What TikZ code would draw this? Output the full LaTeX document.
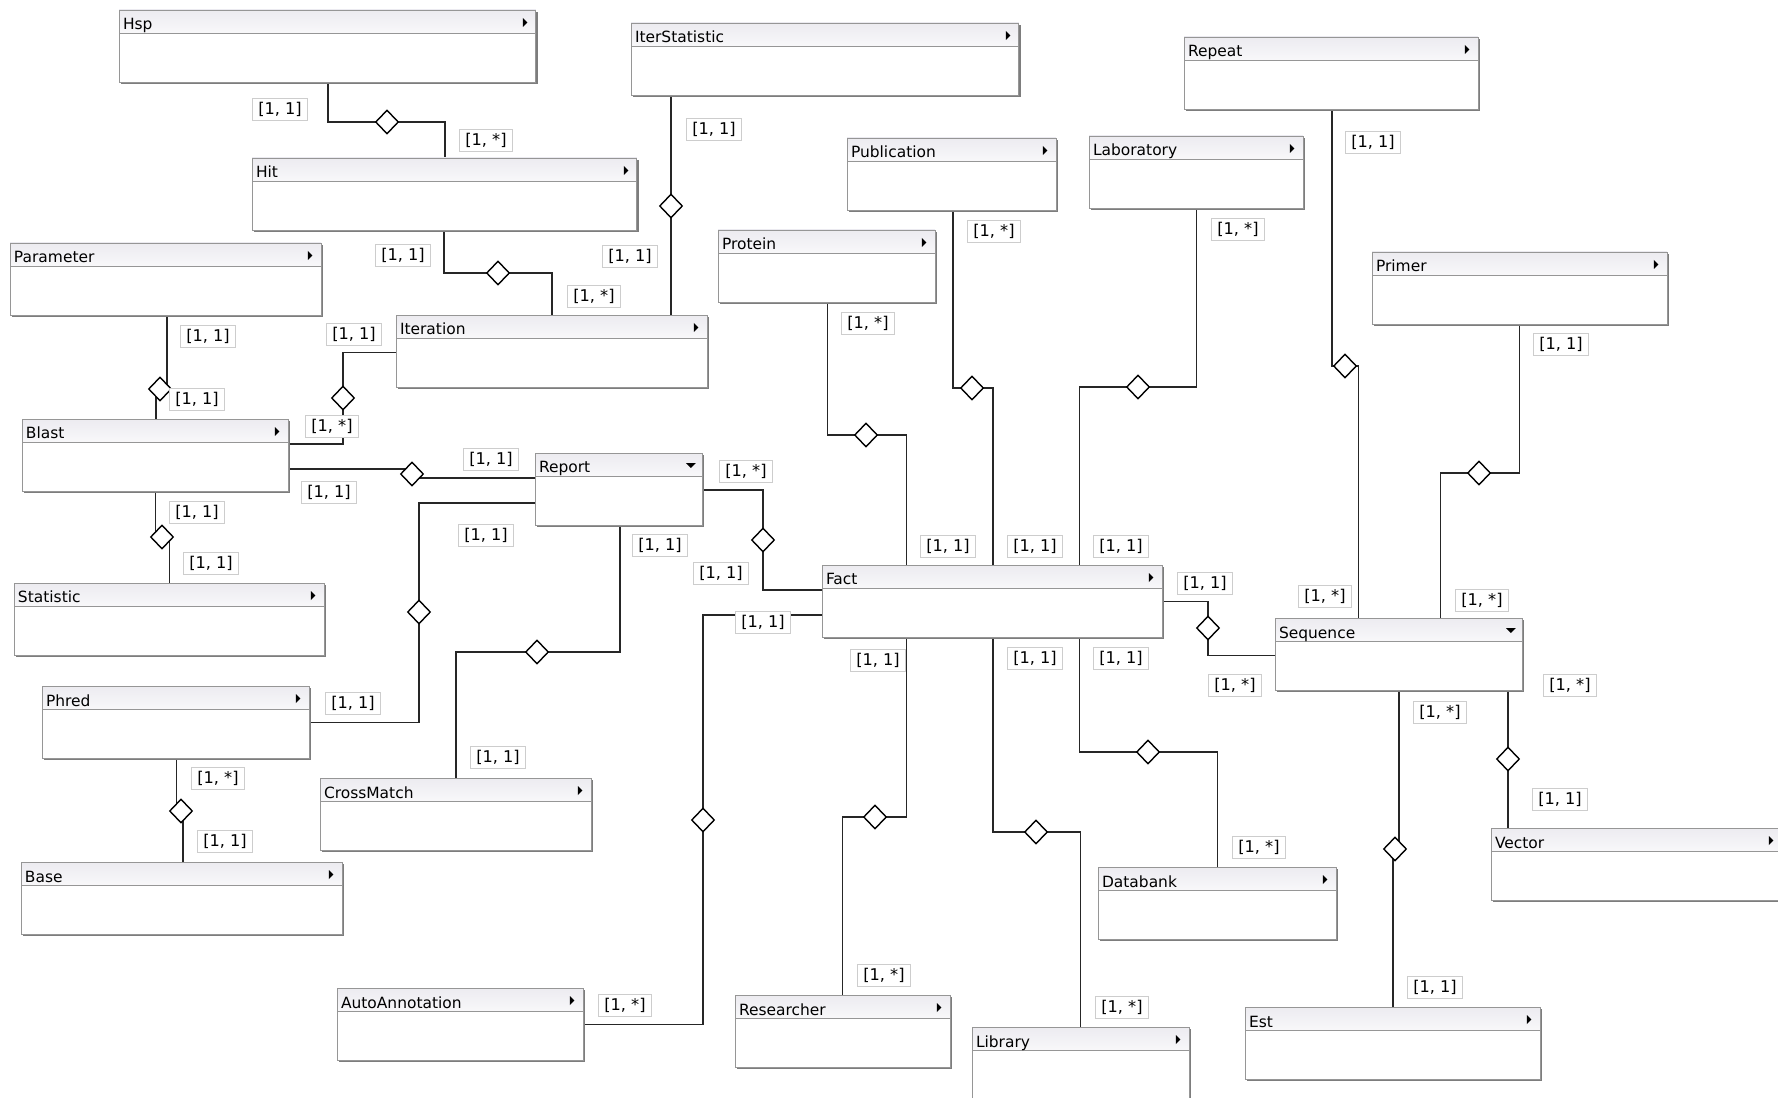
\documentclass[tikz,border=0pt]{standalone}
\usepackage{fontspec}
\usetikzlibrary{shapes.geometric, shadows, backgrounds}
\newfontfamily\umlfont{DejaVu Sans}
\definecolor{boxline}{RGB}{150,150,150}
\definecolor{boxshade}{RGB}{125,125,125}
\definecolor{bartop}{RGB}{236,235,240}
\definecolor{barlow}{RGB}{212,208,220}
\definecolor{multline}{RGB}{205,205,205}
\newcommand{\titlebar}{%
  \shade[top color=bartop, bottom color=barlow, middle color=white]
    (path picture bounding box.north west) rectangle ([yshift=-0.46cm]path picture bounding box.north east);
  \draw[boxline, line width=0.5pt] ([yshift=-0.46cm]path picture bounding box.north west) -- ([yshift=-0.46cm]path picture bounding box.north east);}

\begin{document}
\begin{tikzpicture}[x=0.02cm, y=-0.02cm]
    % Define the styles for the classes, aggregations and multiplicities
    \tikzset{
        clsbase/.style={rectangle, draw=boxline, fill=white, line width=0.5pt, anchor=north west, outer sep=0pt, inner xsep=0.08cm, inner ysep=0pt, align=left, text height=0.40cm, text depth=1.04cm, font=\umlfont\fontsize{8.8pt}{10pt}\selectfont, drop shadow={shadow xshift=0.04cm, shadow yshift=-0.04cm, fill=boxshade, opacity=1}},
        cls/.style={clsbase, text width=#1, path picture={\titlebar
            \fill[black] ([xshift=-0.26cm, yshift=-0.16cm]path picture bounding box.north east) -- ++(0.09cm,-0.09cm) -- ++(-0.09cm,-0.09cm) -- cycle;}},
        clsdown/.style={clsbase, text width=#1, path picture={\titlebar
            \fill[black] ([xshift=-0.32cm, yshift=-0.2cm]path picture bounding box.north east) -- ++(0.2cm,0cm) -- ++(-0.1cm,-0.1cm) -- cycle;}},
        agg/.style={diamond, draw, fill=white, line width=0.8pt, minimum width=0.46cm, minimum height=0.48cm, inner sep=0pt},
        mult/.style={rectangle, draw=multline, fill=white, line width=0.5pt, inner xsep=0.11cm, inner ysep=0.07cm, text height=0.26cm, text depth=0.04cm, font=\umlfont\fontsize{9.2pt}{10pt}\selectfont},
        link/.style={draw=black!85, line width=0.75pt}
    }
    \useasboundingbox (0,0) rectangle (1778,1098);
    \begin{scope}[on background layer]
        \fill[white] (0,0) rectangle (1778,1098);
    \end{scope}

    % Draw the classes
    \node[cls=8.18cm] (hsp) at (119,10) {Hsp};
    \node[cls=7.60cm] (iterstat) at (631,23) {IterStatistic};
    \node[cls=5.72cm] (repeat) at (1184,37) {Repeat};
    \node[cls=7.54cm] (hit) at (252,158) {Hit};
    \node[cls=4.02cm] (publication) at (847,138) {Publication};
    \node[cls=4.12cm] (laboratory) at (1089,136) {Laboratory};
    \node[cls=4.18cm] (protein) at (718,230) {Protein};
    \node[cls=6.06cm] (parameter) at (10,243) {Parameter};
    \node[cls=5.74cm] (primer) at (1372,252) {Primer};
    \node[cls=6.06cm] (iteration) at (396,315) {Iteration};
    \node[cls=5.16cm] (blast) at (22,419) {Blast};
    \node[clsdown=3.18cm] (report) at (535,453) {Report};
    \node[cls=6.04cm] (statistic) at (14,583) {Statistic};
    \node[cls=6.64cm] (fact) at (822,565) {Fact};
    \node[clsdown=4.78cm] (sequence) at (1275,618) {Sequence};
    \node[cls=5.18cm] (phred) at (42,686) {Phred};
    \node[cls=5.26cm] (crossmatch) at (320,778) {CrossMatch};
    \node[cls=5.66cm] (vector) at (1491,828) {Vector};
    \node[cls=6.26cm] (base) at (21,862) {Base};
    \node[cls=4.60cm] (databank) at (1098,867) {Databank};
    \node[cls=4.76cm] (autoannot) at (337,988) {AutoAnnotation};
    \node[cls=4.14cm] (researcher) at (735,995) {Researcher};
    \node[cls=4.18cm] (library) at (972,1027) {Library};
    \node[cls=5.74cm] (est) at (1245,1007) {Est};

    % Draw the aggregation diamonds
    \node[agg] (d1) at (387,122) {};
    \node[agg] (d2) at (498,273) {};
    \node[agg] (d3) at (671,206) {};
    \node[agg] (d4) at (160,389) {};
    \node[agg] (d5) at (343,398) {};
    \node[agg] (d6) at (412,474) {};
    \node[agg] (d7) at (162,537) {};
    \node[agg] (d8) at (419,612) {};
    \node[agg] (d9) at (537,652) {};
    \node[agg] (d10) at (763,540) {};
    \node[agg] (d11) at (703,820) {};
    \node[agg] (d12) at (866,435) {};
    \node[agg] (d13) at (972,388) {};
    \node[agg] (d14) at (1138,387) {};
    \node[agg] (d15) at (875,817) {};
    \node[agg] (d16) at (1036,832) {};
    \node[agg] (d17) at (1148,752) {};
    \node[agg] (d18) at (1208,628) {};
    \node[agg] (d19) at (1345,366) {};
    \node[agg] (d20) at (1479,473) {};
    \node[agg] (d21) at (1395,849) {};
    \node[agg] (d22) at (1508,759) {};
    \node[agg] (d23) at (181,811) {};

    % Draw the associations behind the classes
    \begin{scope}[on background layer]
        \draw[link] ([xshift=4.18cm]hsp.south west) |- (d1.center) -| ([xshift=3.86cm]hit.north west);
        \draw[link] ([xshift=3.84cm]hit.south west) |- (d2.center) -| ([xshift=3.12cm]iteration.north west);
        \draw[link] (d3 |- iterstat.south) -- (d3 |- iteration.north);
        \draw[link] ([xshift=3.14cm]parameter.south west) |- (d4.center) -| ([xshift=2.68cm]blast.north west);
        \draw[link] ([yshift=-0.75cm]iteration.north west) -| (d5.center) |- ([yshift=-0.5cm]blast.north east);
        \draw[link] ([yshift=-1cm]blast.north east) -| (d6.center) |- ([yshift=-0.5cm]report.north west);
        \draw[link] ([xshift=2.67cm]blast.south west) |- (d7.center) -| ([xshift=3.11cm]statistic.north west);
        \draw[link] ([yshift=-1cm]report.north west) -| (d8.center) |- ([yshift=-0.73cm]phred.north east);
        \draw[link] ([xshift=1.70cm]report.south west) |- (d9.center) -| ([xshift=2.72cm]crossmatch.north west);
        \draw[link] ([yshift=-0.74cm]report.north east) -| (d10.center) |- ([yshift=-0.5cm]fact.north west);
        \draw[link] ([yshift=-1cm]fact.north west) -| (d11.center) |- ([yshift=-0.73cm]autoannot.north east);
        \draw[link] ([xshift=2.19cm]protein.south west) |- (d12.center) -| ([xshift=1.69cm]fact.north west);
        \draw[link] ([xshift=2.12cm]publication.south west) |- (d13.center) -| ([xshift=3.42cm]fact.north west);
        \draw[link] ([xshift=2.15cm]laboratory.south west) |- (d14.center) -| ([xshift=5.15cm]fact.north west);
        \draw[link] ([xshift=1.69cm]fact.south west) |- (d15.center) -| ([xshift=2.15cm]researcher.north west);
        \draw[link] ([xshift=3.42cm]fact.south west) |- (d16.center) -| ([xshift=2.17cm]library.north west);
        \draw[link] ([xshift=5.15cm]fact.south west) |- (d17.center) -| ([xshift=2.39cm]databank.north west);
        \draw[link] ([yshift=-0.73cm]fact.north east) -| (d18.center) |- ([yshift=-0.75cm]sequence.north west);
        \draw[link] ([xshift=2.96cm]repeat.south west) |- (d19.center) -| ([xshift=1.67cm]sequence.north west);
        \draw[link] ([xshift=2.95cm]primer.south west) |- (d20.center) -| ([xshift=3.31cm]sequence.north west);
        \draw[link] ([xshift=2.48cm]sequence.south west) |- (d21.center) -| ([xshift=2.96cm]est.north west);
        \draw[link] (d22 |- sequence.south) -- (d22 |- vector.north);
        \draw[link] ([xshift=2.69cm]phred.south west) |- (d23.center) -| ([xshift=3.24cm]base.north west);
    \end{scope}

    % Draw the multiplicities
    \node[mult] (m1a) at (280,109) {[1, 1]};
    \node[mult] (m1b) at (486,140) {[1, *]};
    \node[mult] (m2a) at (403,255) {[1, 1]};
    \node[mult] (m2b) at (594,296) {[1, *]};
    \node[mult] (m3a) at (714,129) {[1, 1]};
    \node[mult] (m3b) at (630,256) {[1, 1]};
    \node[mult] (m4a) at (208,336) {[1, 1]};
    \node[mult] (m4b) at (197,399) {[1, 1]};
    \node[mult] (m5a) at (354,334) {[1, 1]};
    \node[mult] (m5b) at (332,426) {[1, *]};
    \node[mult] (m6a) at (491,459) {[1, 1]};
    \node[mult] (m6b) at (329,492) {[1, 1]};
    \node[mult] (m7a) at (197,512) {[1, 1]};
    \node[mult] (m7b) at (211,563) {[1, 1]};
    \node[mult] (m8a) at (486,535) {[1, 1]};
    \node[mult] (m8b) at (353,703) {[1, 1]};
    \node[mult] (m9a) at (660,545) {[1, 1]};
    \node[mult] (m9b) at (498,757) {[1, 1]};
    \node[mult] (m10a) at (746,471) {[1, *]};
    \node[mult] (m10b) at (721,573) {[1, 1]};
    \node[mult] (m11a) at (763,622) {[1, 1]};
    \node[mult] (m11b) at (625,1005) {[1, *]};
    \node[mult] (m12a) at (868,323) {[1, *]};
    \node[mult] (m12b) at (948,546) {[1, 1]};
    \node[mult] (m13a) at (994,231) {[1, *]};
    \node[mult] (m13b) at (1035,546) {[1, 1]};
    \node[mult] (m14a) at (1238,229) {[1, *]};
    \node[mult] (m14b) at (1121,546) {[1, 1]};
    \node[mult] (m15a) at (878,660) {[1, 1]};
    \node[mult] (m15b) at (884,975) {[1, *]};
    \node[mult] (m16a) at (1035,658) {[1, 1]};
    \node[mult] (m16b) at (1122,1007) {[1, *]};
    \node[mult] (m17a) at (1121,658) {[1, 1]};
    \node[mult] (m17b) at (1259,847) {[1, *]};
    \node[mult] (m18a) at (1205,583) {[1, 1]};
    \node[mult] (m18b) at (1235,685) {[1, *]};
    \node[mult] (m19a) at (1373,142) {[1, 1]};
    \node[mult] (m19b) at (1325,596) {[1, *]};
    \node[mult] (m20a) at (1561,344) {[1, 1]};
    \node[mult] (m20b) at (1482,600) {[1, *]};
    \node[mult] (m21a) at (1440,712) {[1, *]};
    \node[mult] (m21b) at (1435,987) {[1, 1]};
    \node[mult] (m22a) at (1570,685) {[1, *]};
    \node[mult] (m22b) at (1560,799) {[1, 1]};
    \node[mult] (m23a) at (218,778) {[1, *]};
    \node[mult] (m23b) at (225,841) {[1, 1]};
\end{tikzpicture}
\end{document}
